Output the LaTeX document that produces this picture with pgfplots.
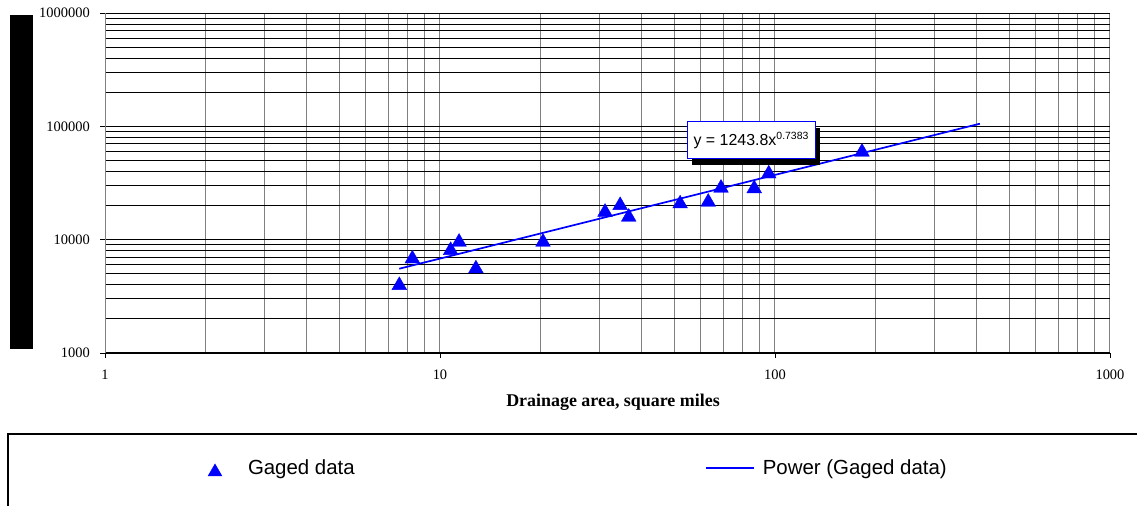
\documentclass[border=0pt]{standalone}
\usepackage{fontspec}
\setmainfont{Liberation Serif}
\newfontfamily\arial{Liberation Sans}
\usepackage{pgfplots}
\pgfplotsset{compat=1.18}
\usetikzlibrary{shadows}
\definecolor{gridgray}{RGB}{128,128,128}
\definecolor{xlblue}{RGB}{0,0,255}
\newcommand{\tl}[1]{\fontsize{14.5}{15}\selectfont #1}
\begin{document}
\begin{tikzpicture}[x=1bp,y=1bp]
\path[use as bounding box] (0,0) rectangle (1137,506);
\fill[black] (10,157) rectangle (33,491);
\draw[black, line width=1.5bp] (8,72) rectangle (1150,-20);
\begin{axis}[
  at={(105bp,153bp)}, anchor=south west,
  scale only axis, width=1005bp, height=340bp,
  xmode=log, ymode=log,
  xmin=1, xmax=1000, ymin=1000, ymax=1000000,
  axis lines=left,
  axis line style={-},
  x axis line style={black, line width=1bp},
  y axis line style={gridgray, line width=1bp},
  xtick={1,10,100,1000}, xticklabels={\tl{1},\tl{10},\tl{100},\tl{1000}},
  ytick={1000,10000,100000,1000000}, yticklabels={\tl{1000},\tl{10000},\tl{100000},\tl{1000000}},
  minor xtick={2,3,4,5,6,7,8,9,20,30,40,50,60,70,80,90,200,300,400,500,600,700,800,900},
  minor ytick={2000,3000,4000,5000,6000,7000,8000,9000,20000,30000,40000,50000,60000,70000,80000,90000,200000,300000,400000,500000,600000,700000,800000,900000},
  grid=both,
  x grid style={gridgray, line width=1bp},
  y grid style={black, line width=0.9bp},
  tick align=outside,
  major tick length=5bp, minor tick length=0bp,
  tick style={black, line width=0.8bp},
  xticklabel style={anchor=center, inner sep=0pt, yshift=-17bp},
  yticklabel style={anchor=east, inner sep=0pt, xshift=-10bp},
  xlabel={Drainage area, square miles},
  xlabel style={font=\bfseries\fontsize{18}{19}\selectfont, at={(axis description cs:0.5055,-0.146)}, anchor=center},
  legend style={at={(axis description cs:0.1025,-0.338)}, anchor=west, draw=none, fill=none,
    inner sep=0pt, outer sep=0pt, legend columns=2,
    font=\arial\fontsize{20.5}{22}\selectfont,
    nodes={inner sep=0pt},
    /tikz/every odd column/.append style={column sep=0pt},
    /tikz/every even column/.append style={column sep=0pt}},
]
\addplot[only marks, mark=triangle*, mark size=8.5bp, color=xlblue,
  mark options={fill=xlblue, draw=xlblue, yshift=-2bp},
  legend image code/.code={\path[draw=none, fill=none] (0bp,-8bp) rectangle (40bp,8bp); \draw[xlblue, fill=xlblue] plot[mark=triangle*, mark size=8bp, only marks] coordinates {(7bp,-2bp)};}]
  coordinates {
  (7.56,4115) (8.27,7065) (10.76,8380) (11.4,9920) (12.8,5770)
  (20.3,9920) (31.1,18240) (34.5,20900) (36.6,16490) (52.1,21600)
  (63.2,22370) (69.0,29720) (86.7,29400) (95.8,39720) (181.9,61800)
  };
\addlegendentry{\makebox[457bp][l]{Gaged data}}
\addplot[color=xlblue, line width=1.7bp, no marks,
  legend image code/.code={\path[draw=none, fill=none] (0bp,-8bp) rectangle (57bp,8bp); \draw[xlblue, line width=1.7bp] (0bp,0bp) -- (48bp,0bp);}]
  coordinates {(7.56,5539) (20,11360) (100,37266) (200,62180) (409,105440)};
\addlegendentry{Power (Gaged data)}
\node[draw=xlblue, fill=white, line width=0.8bp, minimum width=128bp, minimum height=37bp,
  drop shadow={shadow xshift=5bp, shadow yshift=-6bp, fill=black, opacity=1},
  font=\arial\fontsize{16}{17}\selectfont, inner sep=0pt]
  at (axis cs:84.8,75200) {y = 1243.8x\raisebox{6bp}{\fontsize{10.5}{11}\selectfont 0.7383}};
\end{axis}
\end{tikzpicture}
\end{document}
